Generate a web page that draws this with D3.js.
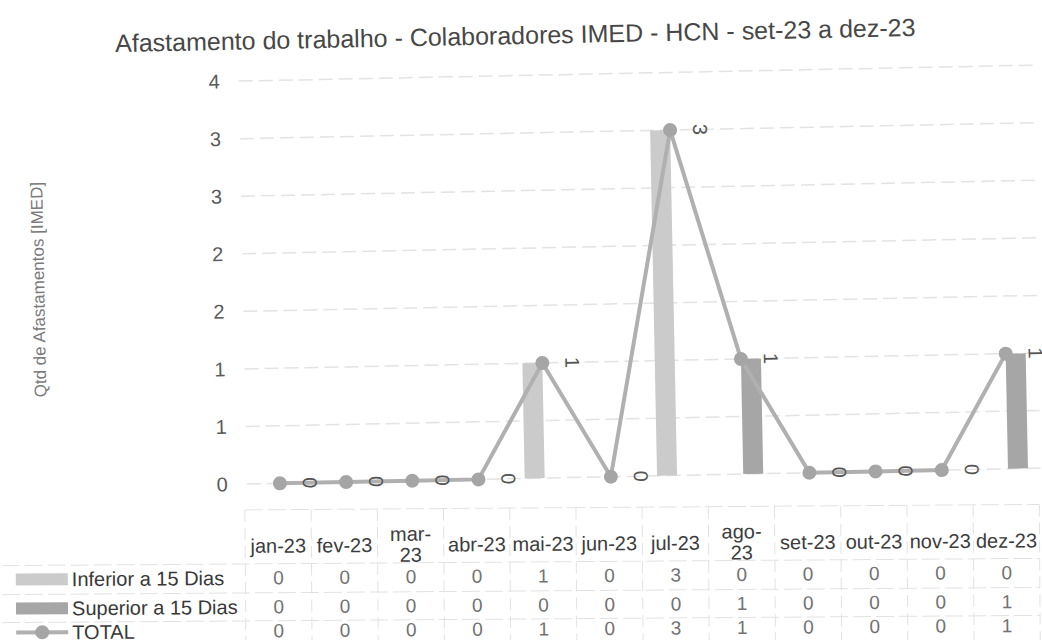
<!DOCTYPE html>
<html>
<head>
<meta charset="utf-8">
<script src="https://cdn.jsdelivr.net/npm/d3@7"></script>
<style>
  body { margin: 0; background: #fff; }
</style>
</head>
<body>
<div id="canvas"></div>
<script>
var w = 1042;
var h = 640;
var font = "'Liberation Sans', Arial, sans-serif";

// data
var months = ["jan-23", "fev-23", "mar-23", "abr-23", "mai-23", "jun-23",
              "jul-23", "ago-23", "set-23", "out-23", "nov-23", "dez-23"];
var inferior = [0, 0, 0, 0, 1, 0, 3, 0, 0, 0, 0, 0];
var superior = [0, 0, 0, 0, 0, 0, 0, 1, 0, 0, 0, 1];
var total    = [0, 0, 0, 0, 1, 0, 3, 1, 0, 0, 0, 1];
var seriesNames = ["Inferior a 15 Dias", "Superior a 15 Dias", "TOTAL"];
var yTicks = [0, 0.5, 1, 1.5, 2, 2.5, 3, 3.5];
var yTickLabels = ["0", "1", "1", "2", "2", "3", "3", "4"];

var colInf = "#cbcbcb";
var colSup = "#a6a6a6";
var colLine = "#b0b0b0";
var colDot = "#a5a5a5";

var svg = d3.select("#canvas")
    .append("svg")
    .attr("width", w)
    .attr("height", h)
    .style("background-color", "#fff");

// the scanned page is a bit tilted, the plot more than the table
var canvas = svg.append("g")
    .attr("transform", "rotate(-1.15, 521, 320)");
var tableG = svg.append("g")
    .attr("transform", "rotate(-0.4, 521, 320)");

var xScale = d3.scaleBand()
    .domain(months)
    .range([243.6, 1038])
    .paddingInner(0);

var yScale = d3.scaleLinear()
    .domain([0, 3.5])
    .range([478.5, 75.5]);

var bw = xScale.bandwidth();
var cx = function (i) { return xScale(months[i]) + bw / 2; };

// title
canvas.append("text")
    .attr("x", 521)
    .attr("y", 44)
    .attr("text-anchor", "middle")
    .attr("font-family", font)
    .attr("font-size", "25px")
    .attr("fill", "#474747")
    .text("Afastamento do trabalho - Colaboradores IMED - HCN - set-23 a dez-23");

// y axis title
canvas.append("text")
    .attr("transform", "translate(45, 280) rotate(-90)")
    .attr("text-anchor", "middle")
    .attr("font-family", font)
    .attr("font-size", "17px")
    .attr("fill", "#7a7a7a")
    .text("Qtd de Afastamentos [IMED]");

// gridlines
canvas.selectAll(".grid")
    .data(yTicks)
    .join("line")
    .attr("class", "grid")
    .attr("x1", xScale.range()[0])
    .attr("x2", xScale.range()[1])
    .attr("y1", function (d) { return yScale(d); })
    .attr("y2", function (d) { return yScale(d); })
    .attr("stroke", "#e3e3e3")
    .attr("stroke-width", 1.5)
    .attr("stroke-dasharray", "14,6");

// y axis labels
var yAxis = d3.axisLeft(yScale)
    .tickValues(yTicks)
    .tickFormat(function (d, i) { return yTickLabels[i]; })
    .tickSize(0)
    .tickPadding(19);

var yg = canvas.append("g")
    .attr("transform", "translate(243.6,0)")
    .call(yAxis);
yg.select(".domain").remove();
yg.selectAll("text")
    .attr("font-family", font)
    .attr("font-size", "20px")
    .attr("fill", "#5a5a5a");

// bars
var barW = 20;
canvas.selectAll(".barInf")
    .data(inferior)
    .join("rect")
    .attr("class", "barInf")
    .attr("x", function (d, i) { return cx(i) - barW; })
    .attr("y", function (d) { return yScale(d); })
    .attr("width", barW)
    .attr("height", function (d) { return yScale(0) - yScale(d); })
    .attr("fill", colInf);

canvas.selectAll(".barSup")
    .data(superior)
    .join("rect")
    .attr("class", "barSup")
    .attr("x", function (d, i) { return cx(i); })
    .attr("y", function (d) { return yScale(d); })
    .attr("width", barW)
    .attr("height", function (d) { return yScale(0) - yScale(d); })
    .attr("fill", colSup);

// total line
var line = d3.line()
    .x(function (d, i) { return cx(i); })
    .y(function (d) { return yScale(d); });

canvas.append("path")
    .datum(total)
    .attr("d", line)
    .attr("fill", "none")
    .attr("stroke", colLine)
    .attr("stroke-width", 4);

canvas.selectAll(".dot")
    .data(total)
    .join("circle")
    .attr("class", "dot")
    .attr("cx", function (d, i) { return cx(i); })
    .attr("cy", function (d) { return yScale(d); })
    .attr("r", 7)
    .attr("fill", colDot);

// data labels, rotated
canvas.selectAll(".lbl")
    .data(total)
    .join("text")
    .attr("class", "lbl")
    .attr("transform", function (d, i) {
        return "translate(" + (cx(i) + 30) + "," + yScale(d) + ") rotate(90)";
    })
    .attr("text-anchor", "middle")
    .attr("dominant-baseline", "central")
    .attr("font-family", font)
    .attr("font-size", "20px")
    .attr("fill", "#555")
    .text(function (d) { return d; });

// data table
var tableTop = 508;
var headBottom = 562;
var rowY = [576, 605, 629];
var rowLines = [headBottom, 591, 619];
var x0 = xScale.range()[0];
var x1 = xScale.range()[1];

tableG.append("line")
    .attr("x1", x0).attr("x2", x1)
    .attr("y1", tableTop).attr("y2", tableTop)
    .attr("stroke", "#e2e2e2")
    .attr("stroke-dasharray", "18,5");

tableG.selectAll(".hl")
    .data(rowLines)
    .join("line")
    .attr("class", "hl")
    .attr("x1", 0)
    .attr("x2", x1)
    .attr("y1", function (d) { return d; })
    .attr("y2", function (d) { return d; })
    .attr("stroke", "#e2e2e2")
    .attr("stroke-dasharray", "18,5");

tableG.selectAll(".vl")
    .data(months.concat(["end"]))
    .join("line")
    .attr("class", "vl")
    .attr("x1", function (d, i) { return x0 + i * bw; })
    .attr("x2", function (d, i) { return x0 + i * bw; })
    .attr("y1", tableTop)
    .attr("y2", h + 20)
    .attr("stroke", "#e2e2e2")
    .attr("stroke-dasharray", "12,6");

// month headers, wrapped at the dash when too wide for the column
var heads = tableG.selectAll(".head")
    .data(months)
    .join("text")
    .attr("class", "head")
    .attr("x", function (d) { return xScale(d) + bw / 2; })
    .attr("y", 544)
    .attr("dominant-baseline", "central")
    .attr("text-anchor", "middle")
    .attr("font-family", font)
    .attr("font-size", "20px")
    .attr("fill", "#3d3d3d")
    .text(function (d) { return d; });

heads.each(function (d) {
    var t = d3.select(this);
    if (this.getComputedTextLength() > bw - 4.5) {
        var parts = d.split("-");
        t.text(null);
        t.append("tspan").attr("x", t.attr("x")).attr("y", 533).text(parts[0] + "-");
        t.append("tspan").attr("x", t.attr("x")).attr("y", 554).text(parts[1]);
    }
});

var tableRows = [inferior, superior, total];
tableRows.forEach(function (vals, r) {
    tableG.selectAll(".cell" + r)
        .data(vals)
        .join("text")
        .attr("class", "cell" + r)
        .attr("x", function (d, i) { return cx(i); })
        .attr("y", rowY[r])
        .attr("text-anchor", "middle")
        .attr("dominant-baseline", "central")
        .attr("font-family", font)
        .attr("font-size", "19px")
        .attr("fill", "#727272")
        .text(function (d) { return d; });
});

// legend keys + names
seriesNames.forEach(function (name, r) {
    var y = rowY[r];
    if (r < 2) {
        tableG.append("rect")
            .attr("x", 14)
            .attr("y", y - 6)
            .attr("width", 52)
            .attr("height", 12)
            .attr("fill", r == 0 ? colInf : colSup);
    } else {
        tableG.append("line")
            .attr("x1", 14).attr("x2", 66)
            .attr("y1", y).attr("y2", y)
            .attr("stroke", colLine)
            .attr("stroke-width", 4);
        tableG.append("circle")
            .attr("cx", 40).attr("cy", y)
            .attr("r", 7)
            .attr("fill", colDot);
    }
    tableG.append("text")
        .attr("x", 70)
        .attr("y", y)
        .attr("dominant-baseline", "central")
        .attr("font-family", font)
        .attr("font-size", "20px")
        .attr("fill", "#383838")
        .text(name);
});
</script>
</body>
</html>
